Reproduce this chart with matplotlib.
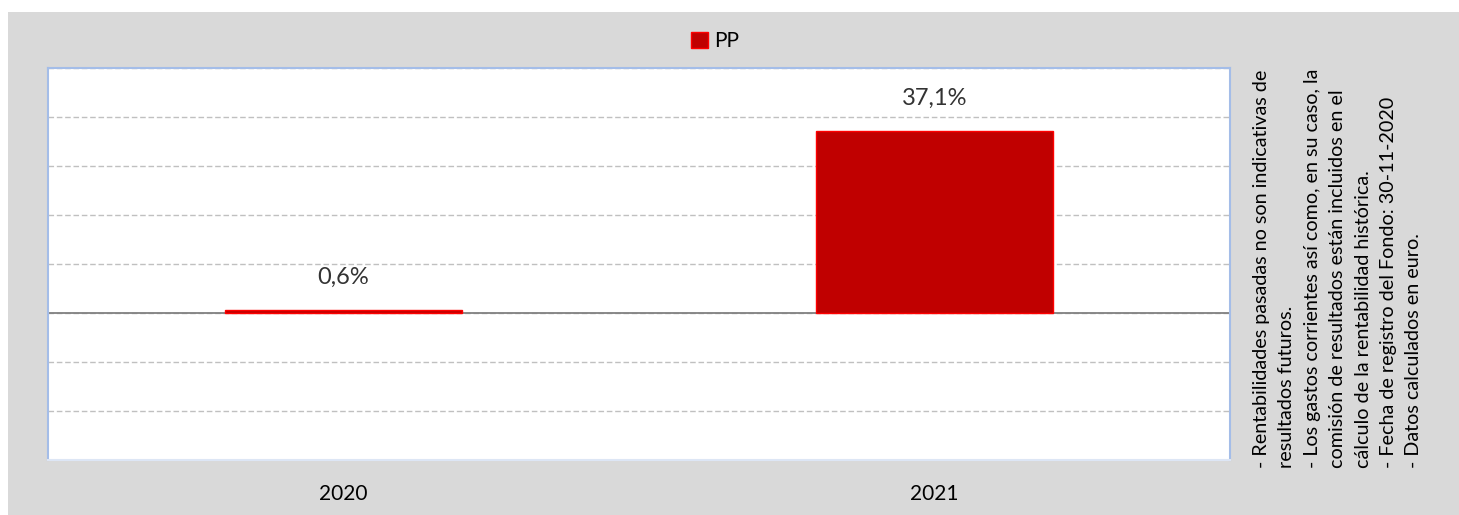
import matplotlib.pyplot as plt
from matplotlib.patches import Rectangle

# data
years = ["2020", "2021"]
returns = [0.6, 37.1]
labels = ["0,6%", "37,1%"]
series_name = "PP"
notes = ("- Rentabilidades pasadas no son indicativas de\n"
         "resultados futuros.\n"
         "- Los gastos corrientes así como, en su caso, la\n"
         "comisión de resultados están incluidos en el\n"
         "cálculo de la rentabilidad histórica.\n"
         "- Fecha de registro del Fondo: 30-11-2020\n"
         "- Datos calculados en euro.")

W, H = 1459, 515
plt.rcParams['font.family'] = ['Lato', 'DejaVu Sans']

fig = plt.figure(figsize=(W / 100, H / 100), dpi=100, facecolor='white')
# grey chart area, leaves a thin white margin top/left
fig.patches.append(Rectangle((8 / W, 0), 1 - 8 / W, 1 - 12 / H, transform=fig.transFigure,
                             facecolor='#d9d9d9', edgecolor='none', zorder=-10))

ax = fig.add_axes([48 / W, 1 - 460 / H, (1230 - 48) / W, (460 - 68) / H])
ax.set_zorder(1)
ax.set_facecolor('white')

x = range(len(years))
bars = ax.bar(x, returns, width=0.4, color='#c00000', edgecolor='#ff0000', linewidth=1,
              label=series_name, zorder=3)
for xi, v, lab in zip(x, returns, labels):
    ax.text(xi, v + 4.6, lab, ha='center', va='bottom', fontsize=17, color='#333333')

ax.set_xlim(-0.5, 1.5)
ax.set_ylim(-30, 50)
ax.set_yticks(range(-30, 51, 10))
ax.yaxis.grid(True, linestyle=(0, (4, 2)), color='#c0c0c0', linewidth=1)
ax.set_axisbelow(True)
ax.axhline(0, color='#808080', linewidth=1.3, zorder=2)
ax.tick_params(left=False, labelleft=False, bottom=False, labelsize=15, pad=14)
ax.set_xticks(list(x))
ax.set_xticklabels(years)
for s in ax.spines.values():
    s.set_color('#a4bde8')
    s.set_linewidth(1.5)
ax.spines['bottom'].set_color('#dde6f5')

fig.legend(handles=[bars], labels=[series_name], loc='center', bbox_to_anchor=(715 / W, 1 - 41 / H),
           frameon=False, fontsize=15, handlelength=0.8, handleheight=0.8, handletextpad=0.3)

fig.text(1253 / W, 1 - 468 / H, notes, rotation=90, ha='left', va='bottom', fontsize=14.2,
         linespacing=1.6, color='black')

fig.savefig('out.png', dpi=100, facecolor=fig.get_facecolor())
